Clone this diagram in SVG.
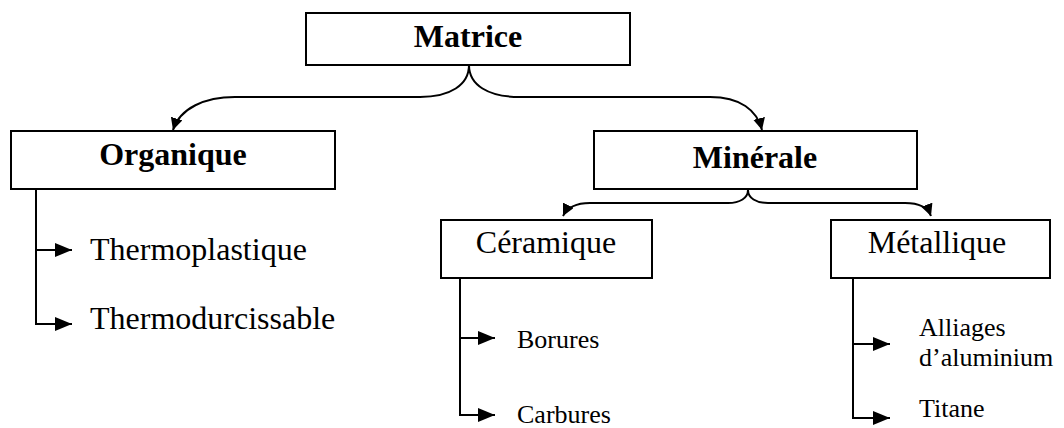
<svg xmlns="http://www.w3.org/2000/svg" width="1064" height="428" viewBox="0 0 1064 428">
<style>
.box{fill:#fff;stroke:#000;stroke-width:2}
.t{font-family:"Liberation Serif","Times New Roman",serif;fill:#000}
.b{font-weight:bold;font-size:32px;text-anchor:middle}
.r{font-size:32px}
.s{font-size:26px}
.c{fill:none;stroke:#000;stroke-width:2}
</style>
<defs>
<marker id="ah" markerUnits="userSpaceOnUse" markerWidth="17" markerHeight="14" refX="17" refY="7" orient="auto">
<path d="M0,0 L17,7 L0,14 z" fill="#000"/>
</marker>
<marker id="ab" markerUnits="userSpaceOnUse" markerWidth="12" markerHeight="12" refX="12" refY="6" orient="auto">
<path d="M0,0 L12,6 L0,12 z" fill="#000"/>
</marker>
</defs>
<g id="connectors">
<path class="c" d="M469 65 C469 85 450 97 420 97 L235 97 C205 97 180 108 173 130" marker-end="url(#ab)"/>
<path class="c" d="M469 65 C469 85 488 97 520 97 L710 97 C740 97 757 110 762 130" marker-end="url(#ab)"/>
<path class="c" d="M748 190 C748 198 740 203 728 203 L590 203 C576 203 567 208 563 216" marker-end="url(#ab)"/>
<path class="c" d="M748 190 C748 198 756 203 768 203 L905 203 C919 203 928 208 931 216" marker-end="url(#ab)"/>
<path class="c" d="M36 190 V324 H72" marker-end="url(#ah)"/>
<path class="c" d="M36 250 H72" marker-end="url(#ah)"/>
<path class="c" d="M460 278 V415 H495" marker-end="url(#ah)"/>
<path class="c" d="M460 338 H495" marker-end="url(#ah)"/>
<path class="c" d="M853 278 V418 H890" marker-end="url(#ah)"/>
<path class="c" d="M853 344 H890" marker-end="url(#ah)"/>
</g>
<g id="matrice">
<rect class="box" x="306" y="13" width="324" height="52"/>
<text class="t b" x="468" y="47" font-size="31">Matrice</text>
</g>
<g id="organique">
<rect class="box" x="11" y="131" width="324" height="58"/>
<text class="t b" x="173" y="165">Organique</text>
</g>
<g id="minerale">
<rect class="box" x="594" y="131" width="323" height="58"/>
<text class="t b" x="755" y="168">Minérale</text>
</g>
<g id="ceramique">
<rect class="box" x="441" y="220" width="211" height="58"/>
<text class="t r" x="546" y="253" text-anchor="middle">Céramique</text>
</g>
<g id="metallique">
<rect class="box" x="831" y="220" width="219" height="58"/>
<text class="t r" x="937" y="253" text-anchor="middle">Métallique</text>
</g>
<g id="thermoplastique"><text class="t r" x="90" y="260">Thermoplastique</text></g>
<g id="thermodurcissable"><text class="t r" x="90" y="329">Thermodurcissable</text></g>
<g id="borures"><text class="t s" x="517" y="348">Borures</text></g>
<g id="carbures"><text class="t s" x="517" y="423">Carbures</text></g>
<g id="alliages"><text class="t s" x="919" y="336">Alliages</text><text class="t s" x="919" y="366">d’aluminium</text></g>
<g id="titane"><text class="t s" x="919" y="417">Titane</text></g>
</svg>
